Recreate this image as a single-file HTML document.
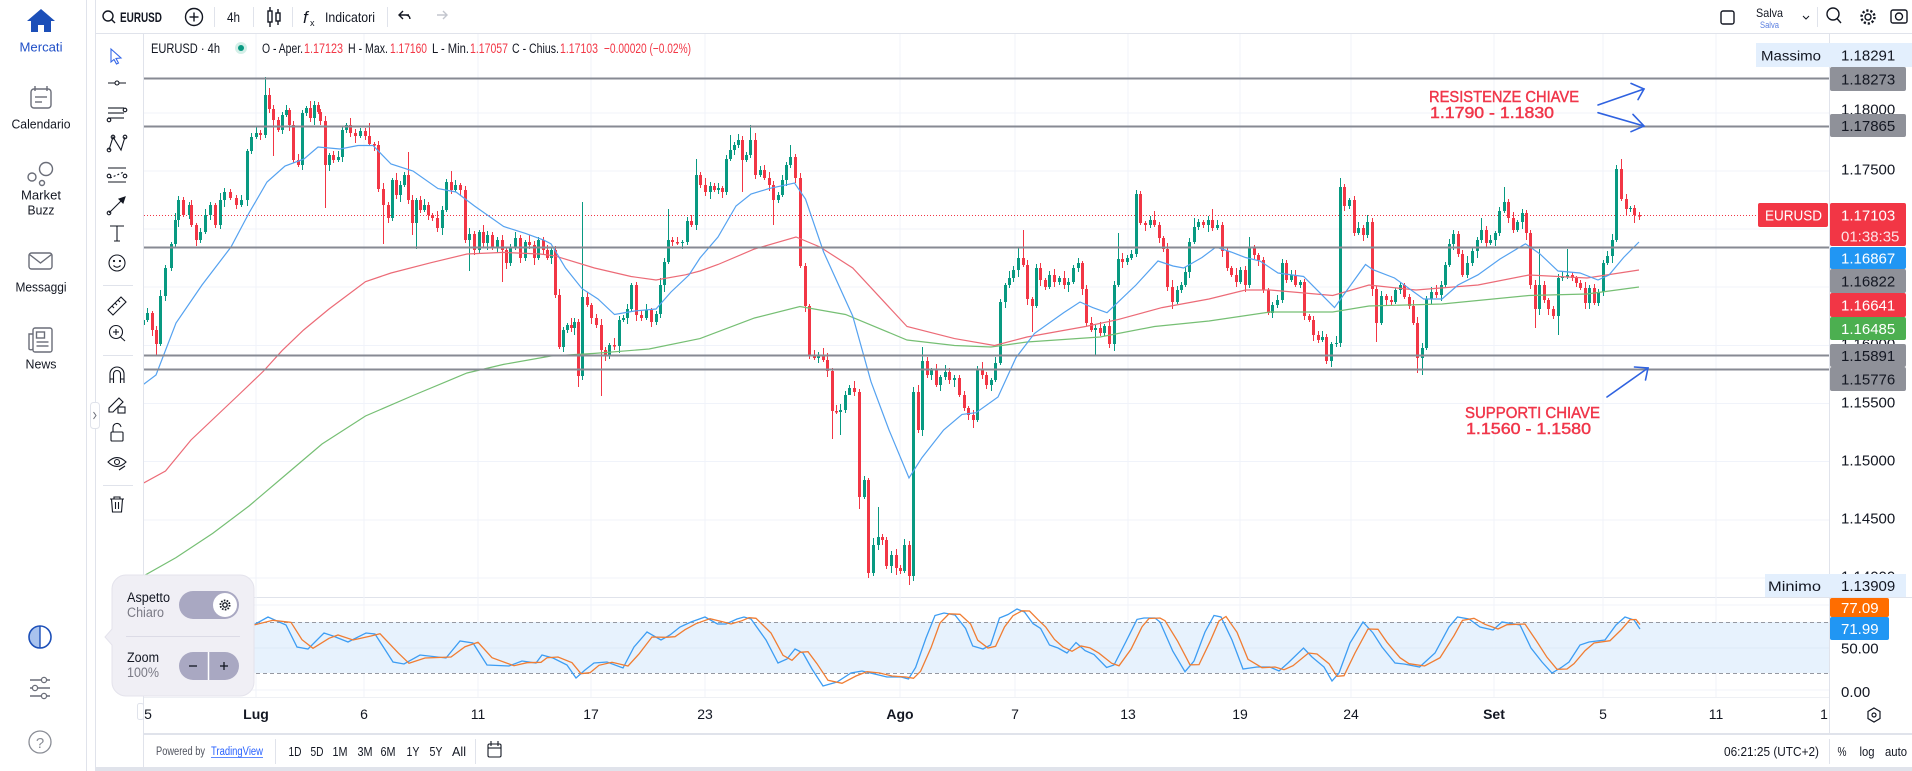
<!DOCTYPE html>
<html><head><meta charset="utf-8"><style>
html,body{margin:0;padding:0;background:#fff;width:1912px;height:771px;overflow:hidden}
svg{display:block}
text{font-family:"Liberation Sans",sans-serif}
</style></head><body>
<svg width="1912" height="771" viewBox="0 0 1912 771" xmlns="http://www.w3.org/2000/svg">
<defs>
<clipPath id="cm"><rect x="144" y="34" width="1685" height="563"/></clipPath>
<clipPath id="co"><rect x="144" y="598" width="1685" height="99"/></clipPath>
</defs>
<rect width="1912" height="771" fill="#fff"/>
<!-- frame -->
<line x1="86.5" y1="0" x2="86.5" y2="771" stroke="#e0e3eb"/>
<line x1="95.5" y1="0" x2="95.5" y2="771" stroke="#e0e3eb"/>
<line x1="96" y1="33.5" x2="1912" y2="33.5" stroke="#e0e3eb"/>
<line x1="143.5" y1="34" x2="143.5" y2="767" stroke="#e0e3eb"/>
<line x1="1829.5" y1="34" x2="1829.5" y2="733" stroke="#e0e3eb"/>
<line x1="144" y1="597.5" x2="1912" y2="597.5" stroke="#e0e3eb"/>
<line x1="144" y1="697.5" x2="1829" y2="697.5" stroke="#eef0f4"/>
<rect x="144" y="733" width="1768" height="2" fill="#e0e3eb"/>
<rect x="95" y="767" width="1817" height="4" fill="#e0e3eb"/>

<!-- grid -->
<g stroke="#f0f3fa" stroke-width="1">
<line x1="256" y1="34" x2="256" y2="697"/><line x1="364" y1="34" x2="364" y2="697"/><line x1="478" y1="34" x2="478" y2="697"/><line x1="591" y1="34" x2="591" y2="697"/><line x1="705" y1="34" x2="705" y2="697"/><line x1="900" y1="34" x2="900" y2="697"/><line x1="1015" y1="34" x2="1015" y2="697"/><line x1="1128" y1="34" x2="1128" y2="697"/><line x1="1240" y1="34" x2="1240" y2="697"/><line x1="1351" y1="34" x2="1351" y2="697"/><line x1="1494" y1="34" x2="1494" y2="697"/><line x1="1603" y1="34" x2="1603" y2="697"/><line x1="1716" y1="34" x2="1716" y2="697"/>
<line x1="144" y1="113" x2="1829" y2="113"/><line x1="144" y1="171" x2="1829" y2="171"/><line x1="144" y1="229" x2="1829" y2="229"/><line x1="144" y1="287" x2="1829" y2="287"/><line x1="144" y1="345.5" x2="1829" y2="345.5"/><line x1="144" y1="403.5" x2="1829" y2="403.5"/><line x1="144" y1="461.5" x2="1829" y2="461.5"/><line x1="144" y1="520" x2="1829" y2="520"/><line x1="144" y1="578" x2="1829" y2="578"/>
<line x1="144" y1="605" x2="1829" y2="605"/><line x1="144" y1="690" x2="1829" y2="690"/>
</g>

<!-- oscillator -->
<g clip-path="url(#co)">
<rect x="144" y="622" width="1685" height="51" fill="#e7f2fd"/>
<line x1="144" y1="648" x2="1829" y2="648" stroke="#dde9f6"/>
<line x1="144" y1="622.5" x2="1829" y2="622.5" stroke="#9598a1" stroke-dasharray="4 3"/>
<line x1="144" y1="673.5" x2="1829" y2="673.5" stroke="#9598a1" stroke-dasharray="4 3"/>
<polyline fill="none" stroke="#3d9df3" stroke-width="1.3" points="143,630 170,622 200,616 225,620 250,627 268,617 286,625 297,647 308,649 324,633 333,636 348,642 366,633 375,634 393,662 404,664 420,655 446,658 460,641 473,643 487,665 509,666 522,661 536,663 542,655 553,658 567,665 576,678 585,670 594,663 607,662 623,668 634,647 647,632 661,640 670,635 680,627 691,622 705,617 717.5,624 726,624 737,619 744,617 751,619 766,640 778,663 787,659 795,649 803,653 812,669 823,686 837,682 851,673 862,671 874.6,674 887,677 901,677 908.5,679 915.6,667.5 926,638 935,615.5 944,613 955,615 965.6,628.5 972.7,646 983,649 990.6,645 999.5,618 1008,614.5 1017,609 1024.5,612 1033,623.6 1040.6,628.5 1049.5,645 1058,648 1067,653 1076,642.5 1085,650.6 1094,654.5 1106.6,667.5 1114,665 1126,641.5 1137,619.4 1144,618 1155,618 1160,622 1172.7,651 1185,671.7 1194,661 1205,632 1214,615.5 1221,617 1232,640 1243,669 1257,667 1270,667 1279,671 1288,663 1303.5,648 1312,657 1324,667 1332,681 1339,673 1350,643 1363,622 1373,633 1382,647 1395,663 1404,664 1419.6,667 1435,653 1449,627 1457.5,617 1469,619 1480,627 1493,630 1502,622 1520,625 1531,648 1542,662 1552,673 1562,667 1569,662 1580,645 1589,642 1605,640 1616,625 1625,617 1634,620 1640,629"/>
<polyline fill="none" stroke="#f07d33" stroke-width="1.3" points="148,630 175,624.7 205,618 230,618.7 255,624.7 273,620.3 291,622.3 302,639.7 313,648.3 329,638.3 338,635 353,640 371,636 380,633.7 398,652.7 409,663.3 425,658 451,657 465,646.7 478,642.3 492,657.7 514,665.7 527,662.7 541,662.3 547,657.7 558,657 572,662.7 581,673.7 590,672.7 599,665.3 612,662.3 628,666 639,654 652,637 666,637.3 675,636.7 685,629.7 696,623.7 710,618.7 722.5,621.7 731,624 742,620.7 749,617.7 756,618.3 771,633 783,655.3 792,660.3 800,652.3 808,651.7 817,663.7 828,680.3 842,683.3 856,676 867,671.7 879.6,673 892,676 906,677 913.5,678.3 920.6,671.3 931,647.8 940,623 949,613.8 960,614.3 970.6,624 977.7,640.2 988,648 995.6,646.3 1004.5,627 1013,615.7 1022,610.8 1029.5,611 1038,619.7 1045.6,626.9 1054.5,639.5 1063,647 1072,651.3 1081,646 1090,647.9 1099,653.2 1111.6,663.2 1119,665.8 1131,649.3 1142,626.8 1149,618.5 1160,618 1165,620.7 1177.7,641.3 1190,664.8 1199,664.6 1210,641.7 1219,621 1226,616.5 1237,632.3 1248,659.3 1262,667.7 1275,667 1284,669.7 1293,665.7 1308.5,653 1317,654 1329,663.7 1337,676.3 1344,675.7 1355,653 1368,629 1378,629.3 1387,642.3 1400,657.7 1409,663.7 1424.6,666 1440,657.7 1454,635.7 1462.5,620.3 1474,618.3 1485,624.3 1498,629 1507,624.7 1525,624 1536,640.3 1547,657.3 1557,669.3 1567,669 1574,663.7 1585,650.7 1594,643 1610,640.7 1621,630 1630,619.7 1636,619.5 1640,624.5"/>
</g>

<!-- main pane -->
<g clip-path="url(#cm)">
<line x1="144" y1="215.5" x2="1829" y2="215.5" stroke="#f23645" stroke-width="1" stroke-dasharray="1 2"/>
<g transform="translate(0.5,0)" fill="none">
<path stroke="#089981" stroke-width="1" d="M143 317V329M147 308V322M160 290V346M165 265V301M171 242V271M175 213V248M178 196V227M189 202V219M200 228V243M205 209V234M210 202V220M220 193V229M224 188V207M241 195V207M247 149V206M251 133V154M256 127V139M265 77V138M282 112V134M286 105V117M302 110V170M306 106V116M314 101V125M329 153V171M338 151V162M342 127V162M346 123V133M360 128V138M392 178V221M400 181V202M404 172V187M416 198V249M424 199V212M442 206V235M446 179V212M455 180V192M469 228V271M479 230V253M487 231V250M497 237V252M510 244V266M515 232V250M525 240V261M538 237V260M551 248V264M563 327V352M567 323V333M574 318V335M582 202V380M609 343V359M619 316V353M623 315V322M627 304V324M631 283V311M646 304V320M656 311V325M660 278V318M664 258V292M668 209V264M682 240V249M687 217V245M696 159V230M710 182V199M718 183V194M726 155V195M730 135V161M734 142V155M738 134V148M746 152V162M750 125V158M760 166V177M778 192V203M782 175V197M786 162V186M790 145V168M818 352V363M840 404V435M845 391V413M849 385V393M864 476V499M873 538V576M878 507V550M891 551V573M904 539V573M913 387V581M922 347V436M931 368V380M940 375V391M945 365V380M954 375V387M977 366V422M991 378V391M995 357V382M1000 299V365M1005 283V308M1009 271V288M1013 266V282M1018 247V277M1036 264V308M1049 271V289M1059 276V285M1068 278V292M1073 265V284M1078 258V272M1095 325V356M1104 324V336M1114 281V351M1118 233V287M1127 255V265M1131 250V260M1136 190V257M1150 216V228M1177 286V304M1181 282V293M1185 267V287M1189 238V278M1194 218V244M1198 219V230M1208 216V232M1217 220V230M1240 267V284M1249 237V288M1272 302V318M1277 295V308M1282 259V303M1291 270V282M1300 280V288M1322 331V342M1331 342V367M1336 336V347M1340 178V347M1349 198V209M1358 222V235M1367 215V238M1381 291V325M1395 288V304M1400 282V294M1422 343V375M1426 296V350M1431 287V304M1441 281V301M1445 262V288M1449 239V267M1453 230V250M1467 256V278M1472 247V266M1477 237V258M1481 218V243M1490 235V245M1495 231V246M1499 207V236M1504 187V213M1517 220V232M1522 209V229M1539 249V315M1558 274V335M1562 272V281M1567 249V279M1589 285V309M1598 289V306M1603 260V296M1607 251V265M1612 234V263M1616 165V242M1630 206V212"/>
<path stroke="#089981" stroke-width="3" d="M143 325V320M147 320V313M160 344V296M165 296V268M171 268V244M175 244V220M178 220V200M189 215V205M200 240V232M205 232V215M210 215V205M220 225V200M224 200V192M241 205V200M247 200V151M251 151V137M256 137V133M265 135V95M282 130V115M286 115V110M302 165V113M306 113V108M314 118V105M329 165V155M338 160V157M342 157V130M346 130V125M360 136V131M392 218V180M400 195V185M404 185V175M416 223V200M424 210V205M442 228V210M446 210V182M455 190V185M469 240V234M479 250V232M487 243V235M497 248V240M510 263V248M515 248V238M525 258V242M538 258V240M551 258V250M563 347V330M567 330V325M574 328V322M582 376V297M609 356V345M619 346V320M623 320V318M627 318V309M631 309V285M646 318V310M656 322V314M660 314V285M664 285V262M668 262V240M682 243V242M687 242V221M696 225V175M710 192V186M718 190V188M726 192V159M730 159V150M734 150V145M738 145V140M746 160V155M750 155V140M760 175V170M778 200V195M782 195V180M786 180V165M790 165V157M818 358V355M840 412V410M845 410V395M849 395V388M864 497V480M873 573V545M878 545V537M891 566V555M904 571V545M913 576V392M922 430V361M931 375V370M940 385V377M945 377V372M954 380V378M977 420V370M991 385V380M995 380V363M1000 363V302M1005 302V285M1009 285V278M1013 278V270M1018 270V258M1036 306V268M1049 287V275M1059 282V278M1068 285V282M1073 282V268M1078 268V263M1095 330V328M1104 333V326M1114 344V285M1118 285V259M1127 262V258M1131 258V254M1136 254V194M1150 225V220M1177 302V290M1181 290V285M1185 285V272M1189 272V242M1194 242V227M1198 227V222M1208 225V220M1217 228V225M1240 282V270M1249 285V247M1272 313V305M1277 305V300M1282 300V263M1291 280V275M1300 285V282M1322 340V337M1331 361V344M1336 344V343M1340 343V187M1349 206V200M1358 233V228M1367 235V222M1381 323V296M1395 302V290M1400 290V285M1422 358V348M1426 348V299M1431 299V292M1441 295V285M1445 285V265M1449 265V244M1453 244V234M1467 275V263M1472 263V251M1477 251V240M1481 240V230M1490 243V240M1495 240V233M1499 233V211M1504 211V202M1517 230V222M1522 222V213M1539 309V285M1558 316V278M1562 278V277M1567 277V275M1589 303V288M1598 303V292M1603 292V263M1607 263V256M1612 256V240M1616 240V169M1630 209V208"/>
<path stroke="#f23645" stroke-width="1" d="M152 311V336M156 326V356M183 197V217M191 200V227M196 223V246M215 203V228M230 189V200M236 195V209M260 130V140M269 88V113M273 105V156M278 117V132M289 108V131M293 121V163M298 154V167M310 101V122M318 102V114M320 109V125M325 116V208M333 151V163M350 118V137M355 129V143M365 128V140M369 123V146M374 142V151M378 141V192M383 183V244M388 202V223M396 173V199M408 152V204M412 195V235M420 196V213M428 202V220M432 213V221M437 211V232M451 171V194M460 183V196M465 186V243M474 231V255M483 225V247M492 232V250M502 235V282M506 248V269M520 235V263M529 235V249M534 241V265M543 237V254M547 245V260M555 246V298M559 289V349M571 318V332M578 319V387M587 292V307M591 303V324M596 314V328M601 319V396M605 347V361M614 338V350M636 282V321M641 311V321M651 308V327M672 237V246M677 237V245M691 215V227M700 172V188M705 178V196M714 183V192M722 186V198M742 136V192M755 133V179M764 165V180M769 172V191M773 181V225M795 154V183M800 173V268M805 263V312M809 304V359M814 350V360M823 348V362M827 353V377M832 368V439M836 405V414M854 381V396M859 389V509M868 478V578M882 534V545M886 537V569M896 549V575M900 565V574M909 541V585M918 385V433M927 357V378M936 364V387M949 368V384M959 375V397M964 391V411M968 406V420M973 410V428M982 362V379M986 372V389M1023 230V267M1027 260V305M1032 297V332M1040 263V286M1045 278V290M1054 269V287M1064 271V289M1082 261V295M1086 285V326M1091 317V332M1100 322V336M1109 319V348M1122 253V268M1140 191V225M1145 221V231M1154 211V227M1159 222V243M1163 236V252M1167 243V291M1172 280V309M1203 220V228M1212 209V231M1222 222V257M1227 247V271M1231 266V277M1236 268V287M1245 266V292M1254 245V259M1258 253V266M1263 257V293M1268 288V315M1286 260V283M1295 270V287M1304 279V320M1309 314V322M1313 316V341M1318 331V343M1326 334V364M1344 184V211M1354 196V236M1363 225V241M1372 218V296M1376 286V342M1386 294V306M1391 296V305M1404 283V299M1409 294V309M1413 300V325M1417 317V373M1436 285V298M1458 231V257M1462 250V277M1486 226V247M1508 199V223M1513 212V233M1526 210V240M1530 230V289M1535 280V328M1544 281V303M1548 298V315M1553 306V319M1572 272V281M1576 276V287M1580 280V290M1585 282V309M1594 284V305M1621 159V201M1626 194V215M1634 205V223M1639 212V220"/>
<path stroke="#f23645" stroke-width="3" d="M152 313V330M156 330V344M183 200V215M191 205V225M196 225V240M215 205V225M230 192V198M236 198V205M260 133V135M269 95V109M273 109V120M278 120V130M289 110V125M293 125V160M298 160V165M310 108V118M318 105V112M320 112V121M325 121V165M333 155V160M350 125V133M355 133V136M365 131V136M369 136V144M374 144V145.5M378 145V189M383 189V205M388 205V218M396 180V195M408 175V200M412 200V223M420 200V210M428 205V215M432 215V218M437 218V228M451 182V190M460 185V190M465 190V240M474 234V250M483 232V243M492 235V248M502 240V250M506 250V263M520 238V258M529 242V245M534 245V258M543 240V250M547 250V258M555 250V295M559 295V347M571 325V328M578 322V376M587 297V305M591 305V318M596 318V325M601 325V350M605 350V356M614 345V346.5M636 285V315M641 315V318M651 310V322M672 240V242M677 242V243.5M691 221V225M700 175V185M705 185V192M714 186V190M722 188V192M742 140V160M755 140V175M764 170V178M769 178V185M773 185V200M795 157V178M800 178V266M805 266V306M809 306V356M814 356V358M823 355V360M827 360V371M832 371V411M836 411V412.5M854 388V392M859 392V497M868 480V573M882 537V540M886 540V566M896 555V568M900 568V571M909 545V576M918 392V430M927 361V375M936 370V385M949 372V380M959 378V395M964 395V408M968 408V415M973 415V420M982 370V375M986 375V385M1023 258V265M1027 265V299M1032 299V306M1040 268V280M1045 280V287M1054 275V282M1064 278V285M1082 263V289M1086 289V323M1091 323V330M1100 328V333M1109 326V344M1122 259V262M1140 194V223M1145 223V225M1154 220V225M1159 225V238M1163 238V249M1167 249V287M1172 287V302M1203 222V225M1212 220V228M1222 225V251M1227 251V268M1231 268V275M1236 275V282M1245 270V285M1254 247V255M1258 255V260M1263 260V290M1268 290V313M1286 263V280M1295 275V285M1304 282V316M1309 316V320M1313 320V335M1318 335V340M1326 337V361M1344 187V206M1354 200V233M1363 228V235M1372 222V289M1376 289V323M1386 296V300M1391 300V302M1404 285V297M1409 297V306M1413 306V323M1417 323V358M1436 292V295M1458 234V254M1462 254V275M1486 230V243M1508 202V218M1513 218V230M1526 213V233M1530 233V285M1535 285V309M1544 285V300M1548 300V309M1553 309V316M1572 275V278M1576 278V283M1580 283V288M1585 288V303M1594 288V303M1621 169V199M1626 199V209M1634 208V215M1639 215V216.5"/>
</g>
<polyline fill="none" stroke="#76bf74" stroke-width="1.2" points="140,578 176,557.6 212.7,533.4 249,506 285.5,475 322,444 365.5,416 413,395.5 467,373 503.6,364.4 551,356 594.5,353.4 649,349 700,338.6 754.5,318 800,306.5 845.5,314.5 907,340 954.5,345.5 991,347 1027,342 1100,337 1154.5,326.5 1209,321 1270,312 1332.7,312 1369,306 1442,304 1529,295.5 1587,294 1639,287"/>
<polyline fill="none" stroke="#ec6b77" stroke-width="1.2" points="140,485 165.5,471 191,440 238,395.5 263.6,371 282,350.7 303.6,330 329,309 365.5,281.7 391,273 431,262.7 467,254 503.6,252.4 540,254 554.5,255.8 594.5,268 631,276.5 656,280 685.5,274.8 700,271 718,264.5 754.5,249 796,237 820,247 852.7,268 907,326.5 954.5,338.6 994.5,345.5 1027,337 1085.5,326.5 1118,319.6 1162,307.6 1209,299 1245.5,290 1270,290 1332.7,295.5 1369,285 1416,290 1478,285 1529,275 1587,278 1639,270"/>
<polyline fill="none" stroke="#55a2f0" stroke-width="1.2" points="140,387 156,375 176,323 202,285 231,247 249,213 267,182 285,166 304,159 318,147 340,149 358,145.5 373,145.5 391,164 413,171 438,188.6 456,192 474.5,206 503.6,226.5 525.5,233.4 543.6,240 551,243.8 565.5,268 582,288.6 598,299 614.5,314.5 634.5,311 656,309 671,292 689,275 700,258 718,237 736,206 751,194 769,188.6 794.5,183 805.5,199 823.6,252 852.7,316 871,381.7 889,430 909,478 922,457.6 943.6,430 962,414.4 976,412.7 998,397 1016,357.6 1034.5,333.4 1063.6,312.7 1080,302 1092.7,307.6 1107,312.7 1136,285 1158,261 1173,266 1183.6,268 1202,257.5 1216,247 1231,252 1245.5,257.5 1260,261 1278,273 1303.6,276.5 1334.5,307.6 1365.5,264.5 1372.7,269.6 1394.5,278 1423.6,299 1442,299 1458,285 1478,274.8 1500,259 1525.5,243.8 1540,254 1558,271 1580,273 1598,280 1609,275 1623.6,257.5 1639,242"/>
<g stroke="#878a93" stroke-width="2">
<line x1="144" y1="78.5" x2="1829" y2="78.5"/><line x1="144" y1="126.5" x2="1829" y2="126.5"/><line x1="144" y1="247.5" x2="1829" y2="247.5"/><line x1="144" y1="355.5" x2="1829" y2="355.5"/><line x1="144" y1="369.5" x2="1829" y2="369.5"/>
</g>
<!-- annotations -->
<g fill="#f0364a" stroke="#f0364a" stroke-width="0.45" font-size="16">
<text x="1429" y="102" textLength="150" lengthAdjust="spacingAndGlyphs">RESISTENZE CHIAVE</text>
<text x="1430" y="118" textLength="124" lengthAdjust="spacingAndGlyphs">1.1790 - 1.1830</text>
<text x="1465" y="418" textLength="135" lengthAdjust="spacingAndGlyphs">SUPPORTI CHIAVE</text>
<text x="1466" y="434" textLength="125" lengthAdjust="spacingAndGlyphs">1.1560 - 1.1580</text>
</g>
<g stroke="#2f62e0" stroke-width="1.6" fill="none" stroke-linecap="round">
<line x1="1598" y1="105" x2="1644" y2="89"/><polyline points="1631,83.4 1644,89 1638,99.6"/>
<line x1="1598" y1="112.7" x2="1644" y2="126"/><polyline points="1633,114.4 1644,126 1631,131.7"/>
<line x1="1607" y1="397" x2="1648" y2="368"/><polyline points="1634.5,367 1648,368 1645.5,380"/>
</g>
</g>

<!-- legend -->
<text x="151" y="53" font-size="13.5" fill="#131722" textLength="69" lengthAdjust="spacingAndGlyphs">EURUSD · 4h</text>
<circle cx="241" cy="48" r="6" fill="#d4efe8"/><circle cx="241" cy="48" r="3" fill="#089981"/>
<g font-size="13.5" fill="#131722">
<text x="262" y="53" textLength="41" lengthAdjust="spacingAndGlyphs">O - Aper.</text>
<text x="348" y="53" textLength="40" lengthAdjust="spacingAndGlyphs">H - Max.</text>
<text x="432" y="53" textLength="37" lengthAdjust="spacingAndGlyphs">L - Min.</text>
<text x="512" y="53" textLength="47" lengthAdjust="spacingAndGlyphs">C - Chius.</text>
</g>
<g font-size="13.5" fill="#f23645">
<text x="304" y="53" textLength="39" lengthAdjust="spacingAndGlyphs">1.17123</text>
<text x="390" y="53" textLength="37" lengthAdjust="spacingAndGlyphs">1.17160</text>
<text x="470" y="53" textLength="38" lengthAdjust="spacingAndGlyphs">1.17057</text>
<text x="560" y="53" textLength="38" lengthAdjust="spacingAndGlyphs">1.17103</text>
<text x="604" y="53" textLength="87" lengthAdjust="spacingAndGlyphs">−0.00020 (−0.02%)</text>
</g>

<!-- price axis -->
<g font-size="15">
<rect x="1756" y="43" width="73" height="24" fill="#e3effd"/>
<text x="1761" y="60.5" font-size="14" fill="#131722" textLength="60" lengthAdjust="spacingAndGlyphs">Massimo</text>
<rect x="1829" y="43" width="83" height="24" fill="#e3effd"/>
<text x="1841" y="60.5" fill="#131722">1.18291</text>
<rect x="1830" y="67" width="76" height="24" rx="2" fill="#8f9199"/>
<text x="1841" y="84.5" fill="#131722">1.18273</text>
<text x="1841" y="114.5" fill="#131722">1.18000</text>
<rect x="1830" y="114" width="76" height="23" rx="2" fill="#8f9199"/>
<text x="1841" y="131" fill="#131722">1.17865</text>
<text x="1841" y="174.5" fill="#131722">1.17500</text>
<rect x="1758" y="203" width="70" height="24" rx="2" fill="#f23645"/>
<text x="1765" y="220.5" fill="#fff" textLength="57" lengthAdjust="spacingAndGlyphs">EURUSD</text>
<rect x="1830" y="203" width="76" height="43" rx="2" fill="#f23645"/>
<text x="1841" y="220.5" fill="#fff">1.17103</text>
<text x="1841" y="241.5" fill="#fde3e6">01:38:35</text>
<text x="1841" y="349" fill="#131722">1.16000</text>
<rect x="1830" y="247" width="76" height="22" rx="2" fill="#2196f3"/>
<text x="1841" y="263.5" fill="#fff">1.16867</text>
<rect x="1830" y="269" width="76" height="24" rx="2" fill="#8f9199"/>
<text x="1841" y="286.5" fill="#131722">1.16822</text>
<rect x="1830" y="293" width="76" height="24" rx="2" fill="#f23645"/>
<text x="1841" y="310.5" fill="#fff">1.16641</text>
<rect x="1830" y="317" width="76" height="23" rx="2" fill="#4caf50"/>
<text x="1841" y="334" fill="#fff">1.16485</text>
<rect x="1830" y="344" width="76" height="23" rx="2" fill="#8f9199"/>
<text x="1841" y="361" fill="#131722">1.15891</text>
<rect x="1830" y="367" width="76" height="24" rx="2" fill="#8f9199"/>
<text x="1841" y="384.5" fill="#131722">1.15776</text>
<text x="1841" y="407.5" fill="#131722">1.15500</text>
<text x="1841" y="465.5" fill="#131722">1.15000</text>
<text x="1841" y="523.5" fill="#131722">1.14500</text>
<text x="1841" y="581.5" fill="#131722">1.14000</text>
<rect x="1765" y="574" width="64" height="23" fill="#e3effd"/>
<text x="1768" y="591" font-size="14" fill="#131722" textLength="53" lengthAdjust="spacingAndGlyphs">Minimo</text>
<rect x="1829" y="574" width="77" height="23" fill="#e3effd"/>
<text x="1841" y="591" fill="#131722">1.13909</text>
<rect x="1830" y="598" width="59" height="19" rx="2" fill="#ff6d00"/>
<text x="1841" y="613" fill="#fff">77.09</text>
<rect x="1830" y="617" width="59" height="23" rx="2" fill="#2196f3"/>
<text x="1841" y="634" fill="#fff">71.99</text>
<text x="1841" y="653.5" fill="#131722">50.00</text>
<text x="1841" y="697" fill="#131722">0.00</text>
</g>

<!-- time axis -->
<g font-size="14" fill="#131722" text-anchor="middle">
<text x="148" y="719">5</text>
<text x="256" y="719" font-weight="bold">Lug</text>
<text x="364" y="719">6</text>
<text x="478" y="719">11</text>
<text x="591" y="719">17</text>
<text x="705" y="719">23</text>
<text x="900" y="719" font-weight="bold">Ago</text>
<text x="1015" y="719">7</text>
<text x="1128" y="719">13</text>
<text x="1240" y="719">19</text>
<text x="1351" y="719">24</text>
<text x="1494" y="719" font-weight="bold">Set</text>
<text x="1603" y="719">5</text>
<text x="1716" y="719">11</text>
<text x="1824" y="719">1</text>
</g>
<g fill="none" stroke="#131722" stroke-width="1.2">
<polygon points="1874,708 1880,711.5 1880,718.5 1874,722 1868,718.5 1868,711.5"/><circle cx="1874" cy="715" r="2"/>
</g>

<!-- bottom bar -->
<line x1="275.5" y1="739" x2="275.5" y2="764" stroke="#e0e3eb"/>
<line x1="475.5" y1="739" x2="475.5" y2="764" stroke="#e0e3eb"/>
<line x1="1829.5" y1="739" x2="1829.5" y2="764" stroke="#e0e3eb"/>
<text x="156" y="755" font-size="11.5" fill="#50535e" textLength="49" lengthAdjust="spacingAndGlyphs">Powered by</text>
<text x="211" y="755" font-size="11.5" fill="#2962ff" textLength="52" lengthAdjust="spacingAndGlyphs">TradingView</text>
<line x1="211" y1="757.5" x2="263" y2="757.5" stroke="#2962ff" stroke-width="0.8"/>
<g font-size="13" fill="#131722" text-anchor="middle">
<text x="295" y="756" textLength="13" lengthAdjust="spacingAndGlyphs">1D</text>
<text x="317" y="756" textLength="13" lengthAdjust="spacingAndGlyphs">5D</text>
<text x="340" y="756" textLength="15" lengthAdjust="spacingAndGlyphs">1M</text>
<text x="365" y="756" textLength="15" lengthAdjust="spacingAndGlyphs">3M</text>
<text x="388" y="756" textLength="15" lengthAdjust="spacingAndGlyphs">6M</text>
<text x="413" y="756" textLength="13" lengthAdjust="spacingAndGlyphs">1Y</text>
<text x="436" y="756" textLength="13" lengthAdjust="spacingAndGlyphs">5Y</text>
<text x="459" y="756" textLength="14" lengthAdjust="spacingAndGlyphs">All</text>
<text x="1842" y="756" textLength="9" lengthAdjust="spacingAndGlyphs">%</text>
<text x="1867" y="756" textLength="15" lengthAdjust="spacingAndGlyphs">log</text>
<text x="1896" y="756" textLength="22" lengthAdjust="spacingAndGlyphs">auto</text>
</g>
<text x="1724" y="756" font-size="13" fill="#131722" textLength="95" lengthAdjust="spacingAndGlyphs">06:21:25 (UTC+2)</text>
<g fill="none" stroke="#131722" stroke-width="1.1">
<rect x="488" y="744" width="13" height="13" rx="1.5"/><line x1="491" y1="741" x2="491" y2="746"/><line x1="498" y1="741" x2="498" y2="746"/><line x1="488" y1="748" x2="501" y2="748"/>
</g>

<!-- top toolbar -->
<g fill="none" stroke="#131722" stroke-width="1.4">
<circle cx="108" cy="16" r="5"/><line x1="111.5" y1="19.5" x2="115" y2="23"/>
<circle cx="194" cy="17" r="8.5"/><line x1="189.5" y1="17" x2="198.5" y2="17"/><line x1="194" y1="12.5" x2="194" y2="21.5"/>
<line x1="270" y1="7" x2="270" y2="27"/><rect x="268" y="11" width="4" height="11" fill="#fff"/>
<line x1="278" y1="9" x2="278" y2="25"/><rect x="276" y="13" width="4" height="8" fill="#fff"/>
<path d="M409 15 H400 M403 11 L399 15 L403 19 M400 15 H406 A4 4 0 0 1 410 19"/>
<rect x="1721" y="11" width="13" height="13" rx="2"/>
<polyline points="1803,16 1806,19 1809,16" stroke-width="1"/>
<circle cx="1833" cy="14" r="6"/><line x1="1837" y1="18.5" x2="1841" y2="23"/>
<circle cx="1868" cy="17" r="3"/><circle cx="1868" cy="17" r="6.5" stroke-width="2.4" stroke-dasharray="2.2 1.9"/>
<rect x="1891" y="10" width="16" height="13" rx="2"/><circle cx="1899" cy="16.5" r="3.5"/>
</g>
<path d="M437 15 H446 M443 11 L447 15 L443 19" fill="none" stroke="#c3c6ce" stroke-width="1.4"/>
<g stroke="#e0e3eb"><line x1="214.5" y1="7" x2="214.5" y2="27"/><line x1="253.5" y1="7" x2="253.5" y2="27"/><line x1="292.5" y1="7" x2="292.5" y2="27"/><line x1="387.5" y1="7" x2="387.5" y2="27"/><line x1="1817.5" y1="7" x2="1817.5" y2="27"/></g>
<text x="120" y="22" font-size="14" font-weight="bold" fill="#131722" textLength="42" lengthAdjust="spacingAndGlyphs">EURUSD</text>
<text x="227" y="22" font-size="14" fill="#131722" textLength="13" lengthAdjust="spacingAndGlyphs">4h</text>
<text x="303" y="23" font-size="17" font-style="italic" font-family="Liberation Serif, serif" fill="#131722">f</text>
<text x="310" y="26" font-size="9" fill="#131722">x</text>
<text x="325" y="22" font-size="14" fill="#131722" textLength="50" lengthAdjust="spacingAndGlyphs">Indicatori</text>
<text x="1756" y="17" font-size="12" fill="#131722" textLength="27" lengthAdjust="spacingAndGlyphs">Salva</text>
<text x="1760" y="28" font-size="9" fill="#5b7fe0" textLength="19" lengthAdjust="spacingAndGlyphs">Salva</text>

<!-- drawing tools -->
<g fill="none" stroke="#131722" stroke-width="1.1">
<path d="M111 49 L121 58 L116 58.5 L118.5 63 L116.5 64 L114 59.5 L111 62 Z" stroke="#3567e8"/>
<line x1="108" y1="83" x2="126" y2="83"/><circle cx="117" cy="83" r="2" fill="#fff"/>
<line x1="108" y1="108" x2="124" y2="108"/><line x1="108" y1="113" x2="124" y2="113"/><line x1="108" y1="118" x2="124" y2="118"/><circle cx="125" cy="110" r="1.8"/><circle cx="109" cy="120" r="1.8"/>
<path d="M109 150 L113 137 L121 150 L125 137 M113 137 L109 150"/><circle cx="113" cy="137" r="1.8"/><circle cx="109" cy="150" r="1.8"/><circle cx="125" cy="137" r="1.8"/>
<line x1="108" y1="168" x2="126" y2="168"/><line x1="108" y1="182" x2="126" y2="182"/><line x1="110" y1="178" x2="124" y2="172" stroke-dasharray="2 2"/><circle cx="109" cy="176" r="1.8"/><circle cx="125" cy="176" r="1.8"/>
<line x1="109" y1="213" x2="124" y2="198"/><circle cx="109" cy="213" r="1.8"/><path d="M119 199 L125 197 L123 203 Z" fill="#131722"/>
<path d="M110 226 H124 M117 226 V241 M114 241 H120"/>
<circle cx="117" cy="263" r="8"/><circle cx="114" cy="261" r="0.6" fill="#131722"/><circle cx="120" cy="261" r="0.6" fill="#131722"/><path d="M113.5 265.5 Q117 269 120.5 265.5"/>
<path d="M108 310 L121 297 L126 302 L113 315 Z M112 306 L114 308 M115 303 L117 305 M118 300 L120 302"/>
<circle cx="116" cy="332" r="6.5"/><line x1="120.5" y1="337" x2="125" y2="341"/><line x1="113" y1="332" x2="119" y2="332"/><line x1="116" y1="329" x2="116" y2="335"/>
<path d="M110 383 V374 A7 7 0 0 1 124 374 V383 M113.5 383 V374 A3.5 3.5 0 0 1 120.5 374 V383 M110 379 H113.5 M120.5 379 H124"/>
<path d="M109 412 L109 408 L119 398 L123 402 L113 412 Z"/><rect x="118" y="407" width="7" height="6"/>
<rect x="111" y="432" width="12" height="9" rx="1"/><path d="M113 432 V428 A4 4 0 0 1 121 427"/>
<path d="M108 462 Q117 453 126 462 Q117 471 108 462 Z"/><circle cx="117" cy="462" r="2.5"/><line x1="119" y1="470" x2="125" y2="466"/>
<path d="M110 499 H124 M114 499 V497 H120 V499 M111.5 499 L112.5 512 H121.5 L122.5 499 M115.5 502 V509 M118.5 502 V509"/>
</g>
<g stroke="#e0e3eb"><line x1="103" y1="285.5" x2="133" y2="285.5"/><line x1="103" y1="355.5" x2="133" y2="355.5"/><line x1="103" y1="485.5" x2="133" y2="485.5"/></g>
<rect x="90.5" y="402.5" width="9" height="26" rx="3" fill="#fff" stroke="#e0e3eb"/>
<polyline points="93.5,412 96,415.5 93.5,419" fill="none" stroke="#6a6d78" stroke-width="1"/>
<rect x="137.5" y="703.5" width="6" height="16" rx="2" fill="#fff" stroke="#e0e3eb"/>

<!-- left sidebar -->
<path d="M41 9 L27 21 H31 V32 H38 V25 H44 V32 H51 V21 H55 Z" fill="#1c4fb8"/>
<g fill="none" stroke="#6a6d78" stroke-width="1.4">
<rect x="31" y="89" width="20" height="19" rx="3"/><line x1="35" y1="86" x2="35" y2="91"/><line x1="47" y1="86" x2="47" y2="91"/><line x1="35" y1="97" x2="47" y2="97"/><line x1="35" y1="102" x2="42" y2="102"/>
<circle cx="46" cy="169" r="6.5"/><circle cx="32" cy="177" r="4"/><circle cx="42" cy="183" r="2.5"/>
<rect x="29" y="253" width="23" height="16" rx="2.5"/><polyline points="29.5,254.5 40.5,263 51.5,254.5"/>
<rect x="33" y="328" width="19" height="24" rx="2"/><rect x="36.5" y="332" width="8" height="6"/><line x1="36.5" y1="342" x2="48.5" y2="342"/><line x1="36.5" y1="346" x2="48.5" y2="346"/><path d="M33 334 H29 V349 A3 3 0 0 0 33 349"/>
<line x1="30" y1="680" x2="50" y2="680"/><line x1="30" y1="688" x2="50" y2="688"/><line x1="30" y1="696" x2="50" y2="696"/>
</g>
<g fill="#fff" stroke="#6a6d78" stroke-width="1.3"><circle cx="44" cy="680" r="2.6"/><circle cx="35" cy="688" r="2.6"/><circle cx="44" cy="696" r="2.6"/></g>
<path d="M40 626 A11 11 0 0 0 40 648 Z" fill="#a9c3ee"/>
<circle cx="40" cy="637" r="11" fill="none" stroke="#1c4fb8" stroke-width="1.6"/><line x1="40" y1="626" x2="40" y2="648" stroke="#1c4fb8" stroke-width="1.4"/>
<circle cx="40" cy="742" r="11" fill="none" stroke="#8a8d96" stroke-width="1.3"/>
<text x="40" y="748" font-size="15" fill="#8a8d96" text-anchor="middle">?</text>
<g font-size="13" fill="#131722" text-anchor="middle">
<text x="41" y="51.5" fill="#1f4fc7" textLength="43" lengthAdjust="spacingAndGlyphs">Mercati</text>
<text x="41" y="128.5" textLength="59" lengthAdjust="spacingAndGlyphs">Calendario</text>
<text x="41" y="199.5" textLength="40" lengthAdjust="spacingAndGlyphs">Market</text>
<text x="41" y="214.5" textLength="27" lengthAdjust="spacingAndGlyphs">Buzz</text>
<text x="41" y="291.5" textLength="51" lengthAdjust="spacingAndGlyphs">Messaggi</text>
<text x="41" y="368.5" textLength="31" lengthAdjust="spacingAndGlyphs">News</text>
</g>

<!-- popup -->
<path d="M126 575 H240 A14 14 0 0 1 254 589 V682 A14 14 0 0 1 240 696 H126 A14 14 0 0 1 112 682 V645 L105 637 L112 629 V589 A14 14 0 0 1 126 575 Z" fill="#f0eff5" stroke="#e4e3ec"/>
<text x="127" y="602" font-size="13.5" fill="#131722" textLength="43" lengthAdjust="spacingAndGlyphs">Aspetto</text>
<text x="127" y="617" font-size="13.5" fill="#7a7a85" textLength="37" lengthAdjust="spacingAndGlyphs">Chiaro</text>
<rect x="179" y="591" width="60" height="28" rx="14" fill="#a9a8c2"/>
<circle cx="225" cy="605" r="12" fill="#fff"/>
<path d="M195 599 A6 6 0 1 0 195 611 A5 5 0 0 1 195 599 Z" fill="#131722"/>
<circle cx="225" cy="605" r="2.2" fill="none" stroke="#131722" stroke-width="1.3"/>
<circle cx="225" cy="605" r="4.6" fill="none" stroke="#131722" stroke-width="1.8" stroke-dasharray="1.6 1.3"/>
<line x1="126" y1="636.5" x2="240" y2="636.5" stroke="#dcdbe6"/>
<text x="127" y="662" font-size="13.5" fill="#131722" textLength="32" lengthAdjust="spacingAndGlyphs">Zoom</text>
<text x="127" y="677" font-size="13.5" fill="#7a7a85" textLength="32" lengthAdjust="spacingAndGlyphs">100%</text>
<rect x="179" y="652" width="60" height="28" rx="14" fill="#a9a8c2"/>
<line x1="208.5" y1="652" x2="208.5" y2="680" stroke="#fff" stroke-width="1.5"/>
<line x1="189" y1="666" x2="197" y2="666" stroke="#131722" stroke-width="1.3"/>
<line x1="220" y1="666" x2="228" y2="666" stroke="#131722" stroke-width="1.3"/><line x1="224" y1="662" x2="224" y2="670" stroke="#131722" stroke-width="1.3"/>
</svg>
</body></html>
